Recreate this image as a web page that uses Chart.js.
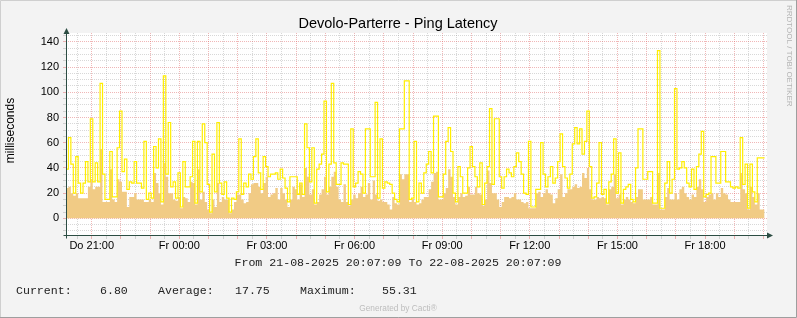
<!DOCTYPE html>
<html>
<head>
<meta charset="utf-8">
<title>Devolo-Parterre - Ping Latency</title>
<script src="https://cdn.jsdelivr.net/npm/chart.js@4.4.1/dist/chart.umd.min.js"></script>
<style>
    html, body { margin: 0; padding: 0; background: #F3F3F3; }
    #wrap { position: relative; width: 797px; height: 318px; }
</style>
</head>
<body>
<div id="wrap"><canvas id="pingChart" width="797" height="318"></canvas></div>
<script>
// Zeitbereich: Do 21-08-2025 20:07:09 bis Fr 22-08-2025 20:07:09 (Minuten seit Do 00:00)
const startMinute = 20 * 60 + 7.15;
const endMinute = startMinute + 24 * 60;
const stepMinutes = 5;

// Maximum (gelbe Linie), ms – 5-Minuten-Werte
const maxLatency = [
    39, 39, 64, 43, 20, 49, 28, 20, 28, 45, 29, 79, 29, 44, 29, 107, 35, 15, 15, 53,
    17, 17, 56, 85, 37, 47, 23, 29, 28, 45, 28, 28, 24, 61, 15, 20, 16, 57, 40, 63,
    13, 113, 35, 76, 25, 29, 16, 36, 9, 45, 25, 25, 33, 61, 12, 61, 21, 75,
    60, 27, 5, 51, 21, 76, 28, 19, 29, 16, 5, 16, 15, 21, 63, 19, 28, 25, 35, 31,
    49, 63, 36, 23, 49, 41, 33, 35, 35, 36, 31, 39, 32, 24, 13, 33, 33, 33, 19, 28,
    19, 75, 56, 29, 56, 12, 39, 43, 51, 93, 21, 43, 107, 44, 27, 27, 44,
    43, 43, 11, 71, 25, 28, 37, 35, 20, 71, 71, 33, 33, 92, 16, 63, 24, 29, 28, 27,
    20, 15, 13, 71, 71, 109, 109, 15, 16, 61, 13, 28, 20, 36, 43, 53, 36, 81, 81, 17,
    17, 35, 61, 72, 53, 20, 13, 41, 33, 20, 20, 40, 57, 41, 33, 25, 44,
    11, 28, 41, 87, 27, 79, 79, 33, 24, 33, 39, 36, 33, 41, 52, 45, 35, 20, 19, 61,
    9, 9, 23, 23, 60, 35, 25, 33, 41, 28, 32, 45, 67, 41, 32, 24, 35, 59, 72, 59,
    71, 51, 61, 85, 41, 16, 17, 28, 60, 19, 23, 12, 29, 35, 63, 20, 52,
    12, 23, 25, 27, 15, 13, 40, 71, 71, 31, 31, 37, 37, 12, 12, 133, 8, 8, 28, 45,
    20, 31, 103, 39, 40, 45, 40, 28, 25, 39, 23, 41, 51, 69, 17, 19, 20, 49, 49, 28,
    28, 53, 53, 29, 29, 25, 24, 25, 24, 64, 27, 43, 8, 43, 21, 13, 48, 48
];

// Durchschnitt (orange Fläche), ms – 5-Minuten-Werte
const avgLatency = [
    12, 24, 25, 20, 18, 20, 16, 16, 16, 16, 25, 31, 23, 25, 25, 55, 13, 13, 13, 39,
    15, 13, 31, 29, 21, 21, 9, 17, 17, 20, 15, 15, 15, 13, 13, 15, 13, 36, 28, 20,
    11, 44, 33, 20, 20, 15, 14, 17, 8, 17, 16, 13, 29, 28, 11, 39, 15, 21,
    13, 7, 4, 15, 9, 28, 13, 17, 15, 15, 4, 7, 13, 19, 19, 15, 12, 13, 20, 27,
    28, 28, 25, 20, 28, 33, 17, 19, 20, 24, 15, 24, 20, 15, 9, 15, 25, 23, 15, 27,
    17, 40, 33, 19, 23, 11, 13, 19, 23, 33, 19, 25, 33, 37, 25, 15, 13,
    27, 13, 10, 15, 19, 16, 20, 25, 17, 19, 28, 15, 30, 19, 14, 15, 13, 13, 11, 7,
    17, 12, 11, 35, 31, 35, 35, 13, 15, 13, 11, 12, 15, 17, 17, 23, 29, 36, 37, 15,
    15, 20, 24, 39, 33, 17, 11, 17, 20, 17, 18, 25, 19, 19, 25, 20, 19,
    10, 15, 38, 28, 20, 20, 15, 9, 13, 17, 17, 16, 17, 20, 15, 15, 13, 12, 13, 8,
    8, 8, 20, 21, 17, 20, 23, 20, 19, 12, 16, 23, 35, 17, 20, 23, 23, 25, 27, 24,
    25, 36, 32, 40, 23, 15, 15, 17, 16, 17, 16, 11, 23, 25, 35, 16, 19,
    11, 15, 17, 15, 13, 12, 17, 23, 23, 15, 15, 15, 17, 11, 11, 36, 7, 7, 17, 24,
    15, 15, 20, 15, 23, 25, 20, 17, 15, 19, 17, 25, 31, 23, 13, 17, 19, 20, 15, 20,
    17, 24, 20, 19, 15, 13, 13, 13, 13, 36, 23, 20, 7, 25, 17, 11, 20, 7
];

// Achsenbeschriftungen
const xLabelMinutes = [1260, 1440, 1620, 1800, 1980, 2160, 2340, 2520];
const xLabelTexts = ['Do 21:00', 'Fr 00:00', 'Fr 03:00', 'Fr 06:00', 'Fr 09:00', 'Fr 12:00', 'Fr 15:00', 'Fr 18:00'];
const yTickLabels = [0, 20, 40, 60, 80, 100, 120, 140];

const titleText = 'Devolo-Parterre - Ping Latency';
const yAxisTitle = 'milliseconds';
const rangeText = 'From 21-08-2025 20:07:09 To 22-08-2025 20:07:09';
const legendItems = [
    { text: 'Current:', x: 16 }, { text: '6.80', x: 100 },
    { text: 'Average:', x: 158 }, { text: '17.75', x: 235 },
    { text: 'Maximum:', x: 300 }, { text: '55.31', x: 382 }
];

const MGRID = 'rgba(222, 95, 95, 0.45)';
const GRID = 'rgba(143, 143, 143, 0.35)';
const AXIS = '#2C4D43';

function toPoints(values) {
    const pts = values.map((v, i) => ({ x: startMinute + i * stepMinutes, y: v }));
    // letzter Schritt braucht einen Endpunkt
    pts.push({ x: startMinute + values.length * stepMinutes, y: values[values.length - 1] });
    return pts;
}

const rrdFrame = {
    id: 'rrdFrame',
    beforeDraw(chart) {
        const ctx = chart.ctx;
        const a = chart.chartArea;
        ctx.save();
        ctx.fillStyle = '#F3F3F3';
        ctx.fillRect(0, 0, chart.width, chart.height);
        ctx.fillStyle = '#FFFFFF';
        ctx.fillRect(a.left, a.top, a.right - a.left, a.bottom - a.top);
        // Rahmen
        ctx.lineWidth = 1;
        ctx.strokeStyle = '#CFCFCF';
        ctx.beginPath();
        ctx.moveTo(0.5, chart.height); ctx.lineTo(0.5, 0.5); ctx.lineTo(chart.width, 0.5);
        ctx.stroke();
        ctx.strokeStyle = '#9E9E9E';
        ctx.beginPath();
        ctx.moveTo(chart.width - 0.5, 0); ctx.lineTo(chart.width - 0.5, chart.height - 0.5); ctx.lineTo(0, chart.height - 0.5);
        ctx.stroke();
        ctx.restore();
    },
    afterDraw(chart) {
        const ctx = chart.ctx;
        const a = chart.chartArea;
        const ax = Math.round(a.left) + 0.5;
        const ay = Math.round(a.bottom) - 0.5;
        ctx.save();
        // Achsen mit Pfeilen
        ctx.strokeStyle = AXIS;
        ctx.fillStyle = AXIS;
        ctx.lineWidth = 1;
        ctx.beginPath();
        ctx.moveTo(ax, ay + 3); ctx.lineTo(ax, a.top - 2);
        ctx.moveTo(ax - 3, ay); ctx.lineTo(a.right + 2, ay);
        ctx.stroke();
        ctx.beginPath();
        ctx.moveTo(ax, a.top - 5); ctx.lineTo(ax - 3, a.top + 1); ctx.lineTo(ax + 3, a.top + 1); ctx.closePath();
        ctx.fill();
        ctx.beginPath();
        ctx.moveTo(a.right + 6, ay); ctx.lineTo(a.right, ay - 3); ctx.lineTo(a.right, ay + 3); ctx.closePath();
        ctx.fill();

        // Titel
        ctx.fillStyle = '#000';
        ctx.font = '14.5px "Liberation Sans", Arial, sans-serif';
        ctx.textAlign = 'center';
        ctx.textBaseline = 'alphabetic';
        ctx.fillText(titleText, 398, 28);

        // Y-Achsentitel
        ctx.save();
        ctx.translate(14, (a.top + a.bottom) / 2 - 4);
        ctx.rotate(-Math.PI / 2);
        ctx.font = '12px "Liberation Sans", Arial, sans-serif';
        ctx.textAlign = 'center';
        ctx.textBaseline = 'alphabetic';
        ctx.fillText(yAxisTitle, 0, 0);
        ctx.restore();

        // RRDtool Vermerk
        ctx.save();
        ctx.translate(789, 5);
        ctx.rotate(Math.PI / 2);
        ctx.font = '8px "Liberation Sans", Arial, sans-serif';
        ctx.fillStyle = '#B4B4B4';
        ctx.textAlign = 'left';
        ctx.textBaseline = 'middle';
        ctx.fillText('RRDTOOL / TOBI OETIKER', 0, 0);
        ctx.restore();

        // Zeitraum und Legende
        ctx.fillStyle = '#222';
        ctx.font = '11.6px "Liberation Mono", "DejaVu Sans Mono", monospace';
        ctx.textAlign = 'center';
        ctx.fillText(rangeText, 398, 266);
        ctx.textAlign = 'left';
        legendItems.forEach(item => ctx.fillText(item.text, item.x, 294));

        ctx.fillStyle = '#BDBDBD';
        ctx.font = '8.3px "Liberation Sans", Arial, sans-serif';
        ctx.textAlign = 'center';
        ctx.fillText('Generated by Cacti\u00AE', 398, 311);
        ctx.restore();
    }
};

const ctx = document.getElementById('pingChart').getContext('2d');
const pingChart = new Chart(ctx, {
    type: 'line',
    data: {
        datasets: [
            {
                label: 'Maximum',
                data: toPoints(maxLatency),
                borderColor: '#FFEE00',
                borderWidth: 1.2,
                stepped: 'after',
                pointRadius: 0,
                fill: false
            },
            {
                label: 'Average',
                data: toPoints(avgLatency),
                borderColor: 'rgba(0,0,0,0)',
                borderWidth: 0,
                backgroundColor: '#F1CB85',
                stepped: 'after',
                pointRadius: 0,
                fill: 'origin'
            }
        ]
    },
    options: {
        responsive: false,
        animation: false,
        events: [],
        layout: {
            padding: { top: 33, right: 30, bottom: 62, left: 0 }
        },
        plugins: {
            legend: { display: false },
            tooltip: { enabled: false },
            title: { display: false }
        },
        scales: {
            x: {
                type: 'linear',
                min: startMinute,
                max: endMinute,
                z: 1,
                afterFit(scale) { scale.height = 20; },
                afterBuildTicks(scale) {
                    const ticks = [];
                    for (let m = 1230; m <= endMinute; m += 30) ticks.push({ value: m });
                    scale.ticks = ticks;
                },
                grid: {
                    color: c => (c.tick && c.tick.value % 60 === 0 ? MGRID : GRID),
                    tickColor: c => (c.tick && c.tick.value % 60 === 0 ? MGRID : GRID),
                    tickLength: 3,
                    lineWidth: 1
                },
                border: { display: false, dash: [1, 1] },
                ticks: {
                    autoSkip: false,
                    maxRotation: 0,
                    padding: 0,
                    color: '#000',
                    font: { family: '"Liberation Sans", Arial, sans-serif', size: 11 },
                    callback: value => {
                        const idx = xLabelMinutes.indexOf(value);
                        return idx >= 0 ? xLabelTexts[idx] : '';
                    }
                }
            },
            y: {
                type: 'linear',
                min: -14,
                max: 147,
                z: 1,
                afterFit(scale) { scale.width = 66; },
                afterBuildTicks(scale) {
                    const ticks = [];
                    for (let v = -10; v <= 145; v += 5) ticks.push({ value: v });
                    scale.ticks = ticks;
                },
                grid: {
                    color: c => (c.tick && c.tick.value % 20 === 0 ? MGRID : GRID),
                    tickColor: c => (c.tick && c.tick.value % 20 === 0 ? MGRID : GRID),
                    tickLength: 3,
                    lineWidth: 1
                },
                border: { display: false, dash: [1, 1] },
                ticks: {
                    autoSkip: false,
                    padding: 4,
                    color: '#000',
                    font: { family: '"Liberation Sans", Arial, sans-serif', size: 11 },
                    callback: value => (yTickLabels.includes(value) ? String(value) : '')
                }
            }
        }
    },
    plugins: [rrdFrame]
});
</script>
</body>
</html>
